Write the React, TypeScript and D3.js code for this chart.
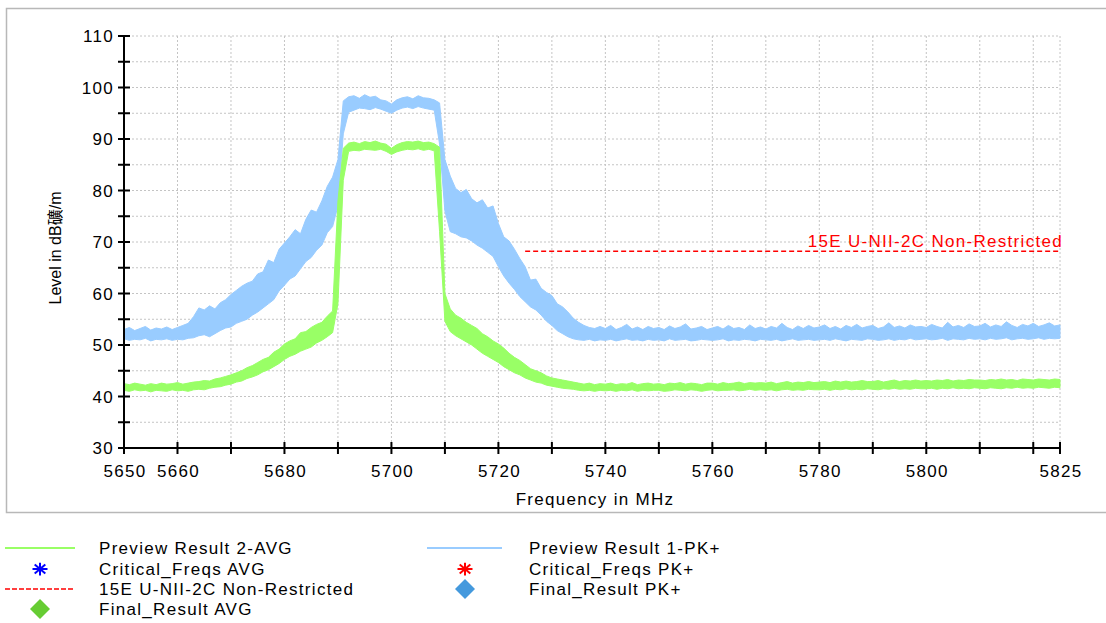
import React, { useEffect, useRef } from "react";
import * as d3 from "d3";

// frequency grid of the traces, 1 MHz step
const FREQ_START = 5650;
const FREQ_END = 5825;

// Preview Result 1-PK+ (lower / upper edge of the noisy trace), dBµV/m
const pkLow = [
  51.2, 50.9, 51.1, 51.0, 51.3, 50.8, 51.1, 51.0, 51.2, 50.9,
  51.1, 51.0, 51.3, 51.4, 51.8, 52.0, 51.6, 52.2, 52.8, 53.3,
  53.5, 54.2, 54.6, 55.0, 55.8, 56.4, 57.2, 58.0, 58.8, 60.5,
  61.6, 62.8, 63.4, 64.8, 66.2, 67.0, 68.4, 69.4, 71.8, 73.0,
  77.0, 91.0, 95.2, 95.6, 96.0, 95.9, 95.7, 96.1, 95.8, 95.4,
  95.0, 95.6, 96.0, 96.2, 95.9, 96.3, 96.0, 95.8, 95.6, 89.0,
  76.0, 72.0, 71.6, 71.0, 70.8, 70.2, 69.4, 68.8, 68.0, 67.2,
  65.2, 63.4, 62.0, 60.8, 59.4, 58.4, 57.4, 56.8, 55.8, 54.6,
  53.8, 52.8, 52.2, 51.6, 51.2, 51.0, 50.9, 51.1, 50.8, 51.0,
  50.9, 51.1, 50.8, 51.0, 51.2, 50.9, 51.0, 50.8, 51.1, 50.9,
  51.0, 50.8, 51.2, 50.9, 51.0, 51.1, 50.8, 50.9, 51.1, 51.0,
  50.9, 51.0, 51.2, 50.8, 51.0, 50.9, 51.1, 51.0, 50.8, 51.1,
  51.0, 50.9, 51.1, 50.8, 51.0, 51.2, 50.9, 51.0, 51.1, 50.9,
  51.0, 51.1, 50.9, 51.2, 51.0, 50.8, 51.1, 51.0, 50.9, 51.2,
  51.1, 50.9, 51.0, 51.2, 50.9, 51.1, 51.0, 51.3, 51.0, 51.1,
  51.2, 51.0, 51.1, 51.3, 50.9, 51.2, 51.1, 51.0, 51.3, 51.1,
  51.2, 51.0, 51.3, 51.1, 51.2, 51.4, 51.0, 51.2, 51.3, 51.1,
  51.2, 51.4, 51.1, 51.3, 51.2, 51.3
];
const pkHigh = [
  53.0, 53.4, 52.8, 53.2, 53.6, 52.9, 53.3, 53.1, 53.5, 53.0,
  53.4, 53.8, 54.2, 55.5, 57.2, 56.8, 57.6, 57.0, 58.2, 58.8,
  59.8, 60.6, 61.4, 62.0, 62.4, 63.8, 64.2, 66.5, 66.0, 68.6,
  69.8, 71.0, 72.4, 71.6, 74.4, 76.2, 75.8, 78.0, 80.8, 82.6,
  86.0, 97.4, 98.2, 98.4, 97.9, 98.6, 98.1, 98.3, 97.6, 97.4,
  96.8, 97.6, 98.0, 98.2, 97.8, 98.4, 98.0, 97.9, 97.6, 97.0,
  86.0, 82.8, 80.4, 79.6, 80.2, 78.4, 77.6, 78.2, 76.6, 77.0,
  73.6, 71.0, 70.2, 68.6, 66.8, 65.2, 62.6, 62.8, 61.0, 60.2,
  59.6, 58.0, 57.4, 56.4, 55.2, 54.4, 53.8, 53.4, 53.2, 53.6,
  53.2, 53.8, 53.0, 53.4, 54.0, 53.1, 53.5, 53.0, 53.6, 53.2,
  53.4, 53.0, 53.7, 53.2, 53.5, 54.1, 53.1, 53.3, 53.6, 53.0,
  53.3, 53.6, 53.1, 53.8, 53.2, 53.4, 53.0, 53.9, 53.2, 53.5,
  53.1, 53.6, 53.3, 54.2, 53.4, 53.0, 53.7, 53.2, 53.8, 53.3,
  53.5, 53.9, 53.2, 53.6, 53.1, 53.8, 53.4, 54.0, 53.3, 53.6,
  53.8, 53.2, 53.5, 54.3, 53.4, 53.7, 53.3, 53.9, 53.5, 53.6,
  53.4, 54.0, 53.6, 53.3, 54.4, 53.5, 53.8, 53.4, 54.1, 53.6,
  53.7, 54.2, 53.5, 53.9, 53.6, 54.5, 53.8, 53.4, 54.0, 53.7,
  54.2, 53.6, 53.9, 54.3, 53.7, 53.9
];

// Preview Result 2-AVG
const avgLow = [
  41.2, 41.0, 41.3, 41.1, 41.2, 40.9, 41.2, 41.1, 41.0, 41.3,
  41.1, 41.2, 41.0, 41.3, 41.4, 41.3, 41.6, 41.8, 41.9, 42.2,
  42.4, 42.8, 43.0, 43.5, 43.8, 44.2, 44.8, 45.2, 45.8, 46.4,
  47.2, 47.8, 48.2, 48.8, 49.2, 49.6, 50.4, 50.9, 51.6, 52.4,
  58.0, 82.0, 87.6, 87.8, 87.7, 88.0, 87.9, 87.8, 88.0, 87.6,
  87.0, 87.5, 87.8, 88.0, 87.9, 88.1, 87.8, 88.0, 87.7, 72.0,
  54.6, 52.6, 51.8, 51.2, 50.6, 50.0, 49.2, 48.4, 47.8, 47.2,
  46.6, 45.8, 45.2, 44.6, 44.2, 43.6, 43.2, 42.8, 42.6, 42.2,
  42.0, 41.8, 41.6, 41.5, 41.4, 41.2, 41.1, 41.2, 41.0, 41.2,
  41.1, 41.2, 41.0, 41.2, 41.1, 41.3, 41.0, 41.2, 41.1, 41.2,
  41.2, 41.0, 41.1, 41.3, 41.2, 41.1, 41.3, 41.2, 41.0, 41.2,
  41.3, 41.1, 41.2, 41.2, 41.3, 41.1, 41.2, 41.4, 41.2, 41.3,
  41.2, 41.3, 41.1, 41.3, 41.4, 41.2, 41.3, 41.2, 41.4, 41.3,
  41.3, 41.4, 41.2, 41.4, 41.3, 41.5, 41.3, 41.4, 41.3, 41.5,
  41.4, 41.3, 41.5, 41.4, 41.6, 41.4, 41.5, 41.4, 41.6, 41.5,
  41.5, 41.6, 41.4, 41.6, 41.5, 41.7, 41.5, 41.6, 41.5, 41.7,
  41.6, 41.5, 41.7, 41.6, 41.5, 41.7, 41.6, 41.8, 41.6, 41.7,
  41.6, 41.8, 41.7, 41.6, 41.8, 41.7
];
const avgHigh = [
  42.5, 42.3, 42.6, 42.4, 42.2, 42.5, 42.3, 42.6, 42.4, 42.5,
  42.7, 42.4, 42.6, 42.8, 42.9, 43.1, 43.0, 43.4, 43.6, 43.9,
  44.2, 44.6, 45.0, 45.6, 46.0, 46.6, 47.2, 47.6, 48.6, 49.2,
  50.2, 50.8, 51.2, 52.4, 52.6, 53.4, 54.0, 54.4, 55.6, 56.6,
  78.0, 88.2, 89.2, 89.4, 89.1, 89.5, 89.3, 89.6, 89.2, 89.0,
  88.2, 88.9, 89.3, 89.5, 89.4, 89.6, 89.3, 89.4, 89.1, 88.4,
  60.0, 57.0, 55.8, 55.2, 54.4, 53.8, 53.2, 52.2, 51.6, 50.8,
  50.2, 49.4, 48.4, 47.6, 47.0, 46.2, 45.4, 45.0, 44.6, 44.0,
  43.6, 43.4, 43.2, 43.0, 42.8, 42.6, 42.4, 42.6, 42.3, 42.5,
  42.4, 42.6, 42.3, 42.5, 42.4, 42.7, 42.3, 42.5, 42.6, 42.4,
  42.5, 42.3, 42.6, 42.5, 42.7, 42.4, 42.6, 42.5, 42.3, 42.6,
  42.6, 42.4, 42.7, 42.5, 42.6, 42.8, 42.5, 42.7, 42.6, 42.7,
  42.6, 42.8, 42.5, 42.7, 42.9, 42.6, 42.8, 42.7, 42.9, 42.7,
  42.8, 42.9, 42.7, 43.0, 42.8, 43.0, 42.8, 42.9, 43.1, 42.9,
  42.9, 43.1, 42.8, 43.0, 43.2, 42.9, 43.1, 43.0, 43.2, 43.0,
  43.1, 43.0, 43.2, 43.1, 43.3, 43.0, 43.2, 43.1, 43.3, 43.2,
  43.2, 43.1, 43.3, 43.2, 43.4, 43.2, 43.3, 43.1, 43.4, 43.3,
  43.2, 43.4, 43.3, 43.2, 43.4, 43.3
];

// limit line
const limitFreqs = [5725, 5825];
const limitLevel = 68.2;
const limitName = "15E U-NII-2C Non-Restricted";

const xTickLabels = [5650, 5660, 5680, 5700, 5720, 5740, 5760, 5780, 5800, 5825];
const yTickLabels = [30, 40, 50, 60, 70, 80, 90, 100, 110];

const legendLeft = [
  { label: "Preview Result 2-AVG", kind: "line", color: "#99ff66" },
  { label: "Critical_Freqs AVG", kind: "star", color: "#0000ff" },
  { label: "15E U-NII-2C Non-Restricted", kind: "dash", color: "#ff0000" },
  { label: "Final_Result AVG", kind: "diamond", color: "#66cc33" }
];
const legendRight = [
  { label: "Preview Result 1-PK+", kind: "line", color: "#99ccff" },
  { label: "Critical_Freqs PK+", kind: "star", color: "#ff0000" },
  { label: "Final_Result PK+", kind: "diamond", color: "#4499dd" }
];

const FONT = "'Liberation Sans', Arial, 'Noto Sans CJK SC', sans-serif";
const FS = 17;
const LS = 1.3;

const App = () => {
  const ref = useRef<HTMLDivElement>(null);

  useEffect(() => {
    d3.select(ref.current).selectAll("*").remove();

    const W = 1106;
    const H = 623;
    const svg = d3
      .select(ref.current)
      .append("svg")
      .attr("width", W)
      .attr("height", H)
      .style("display", "block")
      .style("font-family", FONT);

    svg.append("rect").attr("width", W).attr("height", H).attr("fill", "#fff");

    // chart frame
    svg
      .append("rect")
      .attr("x", 6.5)
      .attr("y", 8.5)
      .attr("width", 1104)
      .attr("height", 504)
      .attr("fill", "none")
      .attr("stroke", "#b8b8b8")
      .attr("stroke-width", 1.5);

    const x = d3.scaleLinear().domain([FREQ_START, FREQ_END]).range([124, 1060]);
    const y = d3.scaleLinear().domain([30, 110]).range([448, 36]);

    const freqs = d3.range(FREQ_START, FREQ_END + 1, 1);
    const xTicks = [...d3.range(5650, 5821, 10), 5825];
    const yTicks = d3.range(30, 111, 5);

    // dotted grid
    const grid = svg.append("g").attr("stroke", "#c4c4c4").attr("stroke-dasharray", "2,2");
    yTicks.filter(v => v > 30).forEach(v => {
      grid.append("line").attr("x1", 124).attr("x2", 1060).attr("y1", y(v)).attr("y2", y(v));
    });
    xTicks.filter(f => f > 5650).forEach(f => {
      grid.append("line").attr("x1", x(f)).attr("x2", x(f)).attr("y1", 36).attr("y2", 448);
    });

    // traces
    const band = (lo: number[], hi: number[]) =>
      d3
        .area<number>()
        .x(f => x(f))
        .y0((_, i) => y(lo[i]))
        .y1((_, i) => y(hi[i]));

    svg
      .append("path")
      .datum(freqs)
      .attr("d", band(pkLow, pkHigh))
      .attr("fill", "#99ccff")
      .attr("stroke", "#99ccff")
      .attr("stroke-width", 1);

    svg
      .append("path")
      .datum(freqs)
      .attr("d", band(avgLow, avgHigh))
      .attr("fill", "#99ff66")
      .attr("stroke", "#99ff66")
      .attr("stroke-width", 1);

    // limit line
    svg
      .append("line")
      .attr("x1", x(limitFreqs[0]))
      .attr("x2", x(limitFreqs[1]))
      .attr("y1", y(limitLevel))
      .attr("y2", y(limitLevel))
      .attr("stroke", "#ff0000")
      .attr("stroke-width", 1.5)
      .attr("stroke-dasharray", "5,3");

    svg
      .append("text")
      .attr("x", x(limitFreqs[1]) + 3)
      .attr("y", y(limitLevel) - 4)
      .attr("text-anchor", "end")
      .attr("fill", "#ff0000")
      .attr("font-size", FS)
      .attr("letter-spacing", LS)
      .text(limitName);

    // axes
    const axis = svg.append("g").attr("stroke", "#000").attr("stroke-width", 2);
    axis.append("line").attr("x1", 124).attr("x2", 124).attr("y1", y(110)).attr("y2", y(30));
    axis.append("line").attr("x1", 124).attr("x2", x(5825)).attr("y1", 448).attr("y2", 448);
    yTicks.forEach(v => {
      axis.append("line").attr("x1", 118).attr("x2", 130).attr("y1", y(v)).attr("y2", y(v));
    });
    xTicks.forEach(f => {
      axis.append("line").attr("x1", x(f)).attr("x2", x(f)).attr("y1", 442).attr("y2", 454);
    });

    svg
      .append("g")
      .selectAll("text")
      .data(yTickLabels)
      .join("text")
      .attr("x", 114)
      .attr("y", d => y(d) + 6)
      .attr("text-anchor", "end")
      .attr("font-size", FS)
      .attr("letter-spacing", LS)
      .text(d => d);

    svg
      .append("g")
      .selectAll("text")
      .data(xTickLabels)
      .join("text")
      .attr("x", d => x(d) + 1)
      .attr("y", 477)
      .attr("text-anchor", "middle")
      .attr("font-size", FS)
      .attr("letter-spacing", LS)
      .text(d => d);

    svg
      .append("text")
      .attr("x", 595)
      .attr("y", 505)
      .attr("text-anchor", "middle")
      .attr("font-size", FS)
      .attr("letter-spacing", LS)
      .text("Frequency in MHz");

    svg
      .append("text")
      .attr("transform", "translate(61,248) rotate(-90)")
      .attr("text-anchor", "middle")
      .attr("font-size", 16)
      .text("Level in dB礦/m");

    // legend
    const drawMarker = (g: any, kind: string, color: string, cx: number, cy: number, x0: number, x1: number) => {
      if (kind === "line") {
        g.append("line").attr("x1", x0).attr("x2", x1).attr("y1", cy).attr("y2", cy)
          .attr("stroke", color).attr("stroke-width", 2);
      } else if (kind === "dash") {
        g.append("line").attr("x1", x0).attr("x2", x1).attr("y1", cy).attr("y2", cy)
          .attr("stroke", color).attr("stroke-width", 1.5).attr("stroke-dasharray", "5,2");
      } else if (kind === "star") {
        [0, 45, 90, 135].forEach(a => {
          const r = 7.5;
          const dx = r * Math.cos((a * Math.PI) / 180);
          const dy = r * Math.sin((a * Math.PI) / 180) * 0.85;
          g.append("line").attr("x1", cx - dx).attr("x2", cx + dx).attr("y1", cy - dy).attr("y2", cy + dy)
            .attr("stroke", color).attr("stroke-width", 2);
        });
      } else if (kind === "diamond") {
        g.append("path")
          .attr("d", `M${cx},${cy - 10}L${cx + 10},${cy}L${cx},${cy + 10}L${cx - 10},${cy}Z`)
          .attr("fill", color);
      }
    };

    const rowY = [548, 569, 589, 609];
    const legend = svg.append("g");
    legendLeft.forEach((d, i) => {
      drawMarker(legend, d.kind, d.color, 40, rowY[i], 5, 75);
      legend.append("text").attr("x", 99).attr("y", rowY[i] + 6).attr("font-size", FS)
        .attr("letter-spacing", LS).text(d.label);
    });
    legendRight.forEach((d, i) => {
      drawMarker(legend, d.kind, d.color, 465, rowY[i], 427, 502);
      legend.append("text").attr("x", 529).attr("y", rowY[i] + 6).attr("font-size", FS)
        .attr("letter-spacing", LS).text(d.label);
    });
  }, []);

  return <div ref={ref} style={{ position: "absolute", left: 0, top: 0 }}></div>;
};

export default App;
